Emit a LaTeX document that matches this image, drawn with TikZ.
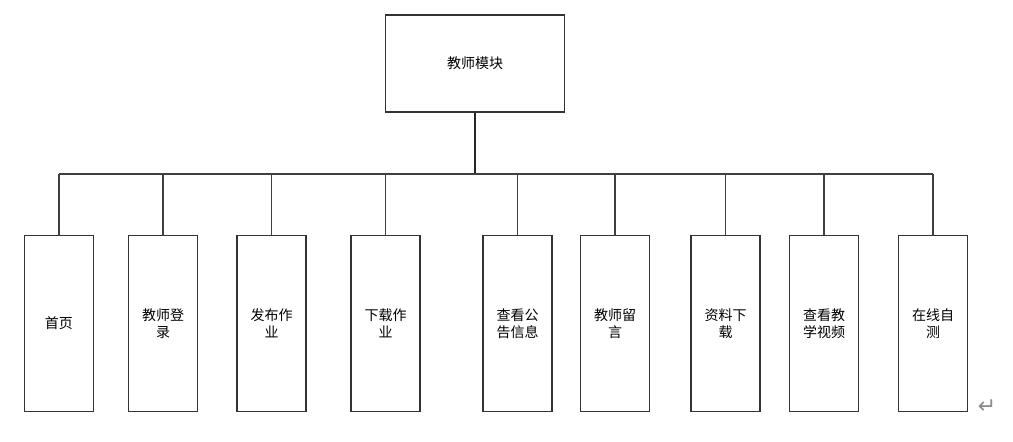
\documentclass[tikz,border=0pt]{standalone}
\usepackage{fontspec}
\newfontfamily\cjk{Noto Sans CJK SC}
\newfontfamily\symfont{DejaVu Sans}
\usetikzlibrary{positioning}

\begin{document}
\begin{tikzpicture}[
  x=1pt, y=-1pt,
  topbox/.style={draw=black!80, line width=1.8pt, minimum width=179pt, minimum height=97pt, font=\cjk\fontsize{14}{17}\selectfont},
  leaf/.style={draw=black!80, line width=1.8pt, minimum width=69pt, minimum height=176pt, inner sep=0pt, align=center, font=\cjk\fontsize{14}{17}\selectfont},
  trunk/.style={draw=black!85, line width=2.8pt},
  link/.style={draw=black!75, line width=1.7pt}
]
  \useasboundingbox (0,0) rectangle (1013,442);
  \node[topbox] (root) at (475,63.5) {教师模块};
  \coordinate (bus) at (475,174);
  \node[leaf] (home) at (59,323.5) {首页};
  \node[leaf] (login) at (163,323.5) {教师登\\录};
  \node[leaf] (assign) at (271.5,323.5) {发布作\\业};
  \node[leaf] (fetch) at (385.5,323.5) {下载作\\业};
  \node[leaf] (notice) at (517.5,323.5) {查看公\\告信息};
  \node[leaf] (message) at (615,323.5) {教师留\\言};
  \node[leaf] (files) at (725.5,323.5) {资料下\\载};
  \node[leaf] (video) at (824,323.5) {查看教\\学视频};
  \node[leaf] (selftest) at (933,323.5) {在线自\\测};
  \node[text=black!45, font=\symfont\fontsize{22}{22}\selectfont] (mark) at (987,407) {↵};
  \draw[trunk] (root.south) -- (bus);
  \draw[link] (home.north |- bus) -- (selftest.north |- bus);
  \foreach \n in {home, login, assign, fetch, notice, message, files, video, selftest}
    \draw[link] (bus -| \n.north) -- (\n.north);
\end{tikzpicture}
\end{document}
